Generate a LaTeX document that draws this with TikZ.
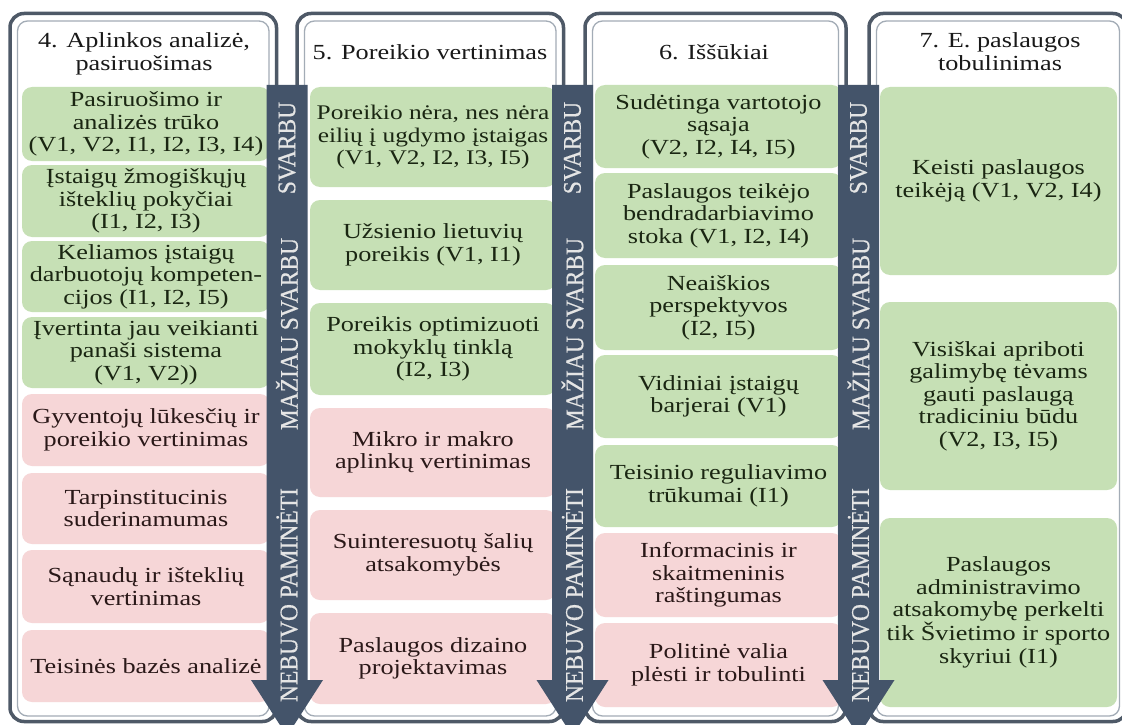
\documentclass[tikz,border=0pt]{standalone}
\usepackage{fontspec}
\setmainfont[FakeStretch=1.22]{Liberation Serif}
\newfontfamily\bandfont[FakeBold=0.5]{Liberation Serif}

\definecolor{frameout}{HTML}{4E5967}
\definecolor{framein}{HTML}{A3ACB6}
\definecolor{bandc}{HTML}{44546A}
\definecolor{okfill}{HTML}{C6E0B5}
\definecolor{nofill}{HTML}{F6D6D7}
\definecolor{oktext}{HTML}{1A2612}
\definecolor{notext}{HTML}{2A1818}

\tikzset{
  cellbox/.style={rounded corners=10pt, inner sep=0pt, align=center,
    font=\fontsize{21.5}{22.5}\selectfont},
  okcell/.style={cellbox, fill=okfill, text=oktext},
  nocell/.style={cellbox, fill=nofill, text=notext},
  head/.style={align=center, inner sep=0pt, text=black!90,
    font=\fontsize{21.5}{23}\selectfont},
  bandlabel/.style={rotate=90, yscale=1.08, inner sep=0pt, text=white!90!black,
    font=\bandfont\fontsize{23.5}{24}\selectfont},
  outerframe/.style={draw=frameout, line width=3.5pt, fill=white, rounded corners=14pt},
  innerframe/.style={draw=framein, line width=1.3pt, rounded corners=10pt},
}

% #1 name, #2 left, #3 top, #4 right, #5 bottom, #6 style, #7 text
\newcommand{\cell}[7]{%
  \node[#6, minimum width={#4-#2}, minimum height={#5-#3}] (#1)
    at ({(#2+#4)/2},{(#3+#5)/2}) {#7};}

% column frame: #1 left, #2 right
\newcommand{\colframe}[2]{%
  \draw[outerframe] (#1,13.5) rectangle (#2,721.5);
  \draw[innerframe] ({#1+7.5},21) rectangle ({#2-7.5},716);}

% importance band with arrow head: #1 centre x
\newcommand{\band}[1]{%
  \fill[bandc] ({#1-20.5},85) -- ({#1+20.5},85) -- ({#1+20.5},680)
    -- ({#1+36},680) -- (#1,736) -- ({#1-36},680) -- ({#1-20.5},680) -- cycle;}

\begin{document}
\begin{tikzpicture}[x=1pt,y=-1pt]
\useasboundingbox (0,0) rectangle (1122,725);
\clip (0,0) rectangle (1122,725);
\fill[white] (0,0) rectangle (1122,725);

% column frames
\colframe{10}{276.5}
\colframe{297}{563.5}
\colframe{585}{846}
\colframe{869}{1127}

% column headings
\node[head] (h4) at (144,54) {4. Aplinkos analizė,\\ pasiruošimas};
\node[head] (h5) at (430,52) {5. Poreikio vertinimas};
\node[head] (h6) at (714,52) {6. Iššūkiai};
\node[head] (h7) at (1000,52) {7. E. paslaugos\\ tobulinimas};

% column 4
\cell{c1a}{22}{87}{270}{161}{okcell}{Pasiruošimo ir\\ analizės trūko\\ (V1, V2, I1, I2, I3, I4)}
\cell{c1b}{22}{165}{270}{237}{okcell}{Įstaigų žmogiškųjų\\ išteklių pokyčiai\\ (I1, I2, I3)}
\cell{c1c}{22}{241}{270}{312}{okcell}{Keliamos įstaigų\\ darbuotojų kompeten-\\ cijos (I1, I2, I5)}
\cell{c1d}{22}{317}{270}{388}{okcell}{Įvertinta jau veikianti\\ panaši sistema\\ (V1, V2))}
\cell{c1e}{22}{394}{270}{466}{nocell}{Gyventojų lūkesčių ir\\ poreikio vertinimas}
\cell{c1f}{22}{473}{270}{544}{nocell}{Tarpinstitucinis\\ suderinamumas}
\cell{c1g}{22}{550}{270}{623}{nocell}{Sąnaudų ir išteklių\\ vertinimas}
\cell{c1h}{22}{630}{270}{702}{nocell}{Teisinės bazės analizė}

% column 5
\cell{c2a}{310}{87}{556}{187}{okcell, font=\fontsize{20.8}{22.5}\selectfont}{Poreikio nėra, nes nėra\\ eilių į ugdymo įstaigas\\ (V1, V2, I2, I3, I5)}
\cell{c2b}{310}{200}{556}{290}{okcell}{Užsienio lietuvių\\ poreikis (V1, I1)}
\cell{c2c}{310}{303}{556}{395}{okcell}{Poreikis optimizuoti\\ mokyklų tinklą\\ (I2, I3)}
\cell{c2d}{310}{408}{556}{497}{nocell}{Mikro ir makro\\ aplinkų vertinimas}
\cell{c2e}{310}{510}{556}{600}{nocell}{Suinteresuotų šalių\\ atsakomybės}
\cell{c2f}{310}{613}{556}{704}{nocell}{Paslaugos dizaino\\ projektavimas}

% column 6
\cell{c3a}{595}{85}{842}{168}{okcell}{Sudėtinga vartotojo\\ sąsaja\\ (V2, I2, I4, I5)}
\cell{c3b}{595}{173}{842}{258}{okcell}{Paslaugos teikėjo\\ bendradarbiavimo\\ stoka (V1, I2, I4)}
\cell{c3c}{595}{265}{842}{350}{okcell}{Neaiškios\\ perspektyvos\\ (I2, I5)}
\cell{c3d}{595}{355}{842}{438}{okcell}{Vidiniai įstaigų\\ barjerai (V1)}
\cell{c3e}{595}{445}{842}{527}{okcell}{Teisinio reguliavimo\\ trūkumai (I1)}
\cell{c3f}{595}{533}{842}{617}{nocell}{Informacinis ir\\ skaitmeninis\\ raštingumas}
\cell{c3g}{595}{623}{842}{707}{nocell}{Politinė valia\\ plėsti ir tobulinti}

% column 7
\cell{c4a}{880}{87}{1117}{275}{okcell}{Keisti paslaugos\\ teikėją (V1, V2, I4)}
\cell{c4b}{880}{302}{1117}{490}{okcell}{Visiškai apriboti\\ galimybę tėvams\\ gauti paslaugą\\ tradiciniu būdu\\ (V2, I3, I5)}
\cell{c4c}{880}{518}{1117}{707}{okcell}{Paslaugos\\ administravimo\\ atsakomybę perkelti\\ tik Švietimo ir sporto\\ skyriui (I1)}

% importance bands between the columns
\band{287}
\band{572.5}
\band{858.5}

\foreach \bx/\bn in {287/a, 572.5/b, 858.5/c}{
  \node[bandlabel] (s\bn) at (\bx,148) {SVARBU};
  \node[bandlabel] (m\bn) at (\bx,334) {MAŽIAU SVARBU};
  \node[bandlabel] (n\bn) at (\bx,595) {NEBUVO PAMINĖTI};
}
\end{tikzpicture}
\end{document}
